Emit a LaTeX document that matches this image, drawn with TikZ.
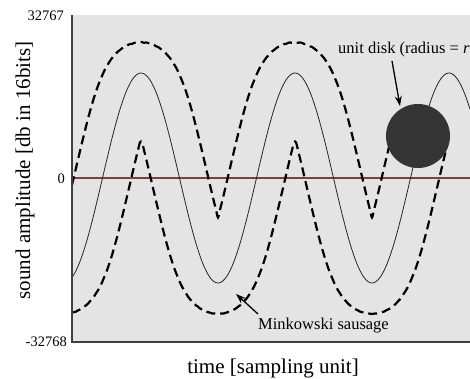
\documentclass[tikz,border=0pt]{standalone}
\usepackage{fontspec}
\setmainfont{Liberation Serif}
\usetikzlibrary{arrows.meta}
\definecolor{bg}{HTML}{E4E4E4}
\definecolor{zeroline}{RGB}{125,65,55}
\definecolor{diskc}{HTML}{353535}
\begin{document}
\begin{tikzpicture}[x=1pt,y=-1pt,
  envelope/.style={line width=2.2pt,dash pattern=on 9pt off 5pt},
  signal/.style={line width=0.8pt,black!85},
  axisline/.style={line width=1.4pt,black!75},
  ticklabel/.style={font=\fontsize{14.5}{16}\selectfont,inner sep=0pt},
  axislabel/.style={font=\fontsize{21}{24}\selectfont,inner sep=0pt},
  note/.style={font=\fontsize{16.5}{19}\selectfont,inner sep=0pt},
  pointer/.style={-{Stealth[length=10pt,width=7pt]},line width=1.3pt}]
\useasboundingbox (0,0) rectangle (470,378);
\fill[bg] (72,15) rectangle (470,342);
% envelopes of the disk swept along the signal (up to the disk's position)
\gdef\upath{}
\gdef\lpath{}
\foreach \x in {72,74,...,446}{
  \gdef\bu{1000}
  \gdef\bl{-1000}
  \foreach \t in {0,10,...,180}{
    \pgfmathsetmacro{\cc}{\x+28*cos(\t)}
    \pgfmathsetmacro{\fv}{178-105*cos((\cc-141)*2.337662)}
    \pgfmathsetmacro{\pen}{(\cc>418.5)*2000}
    \pgfmathsetmacro{\vu}{\fv-31*sin(\t)+\pen}
    \pgfmathsetmacro{\vl}{\fv+31*sin(\t)-\pen}
    \pgfmathparse{min(\bu,\vu)}\xdef\bu{\pgfmathresult}
    \pgfmathparse{max(\bl,\vl)}\xdef\bl{\pgfmathresult}
  }
  \ifdim\x pt<406pt \xdef\upath{\upath (\x,\bu)}\fi
  \xdef\lpath{\lpath (\x,\bl)}
}
\begin{scope}
\clip (72,15) rectangle (470,342);
\draw[zeroline,line width=1.1pt] (72,178) -- (470,178);
\draw[signal] plot[domain=72:470,samples=220,smooth] (\x,{178-105*cos((\x-141)*2.337662)});
\draw[envelope] plot[smooth] coordinates {\upath};
\draw[envelope] plot[smooth] coordinates {\lpath};
\end{scope}
\node[circle,fill=diskc,minimum size=64pt,inner sep=0pt] (disk) at (418,136) {};
% axes
\coordinate (ytop) at (72,15);
\coordinate (origin) at (72,342);
\coordinate (xend) at (470,342);
\draw[axisline] (ytop) -- (origin) -- (xend);
% tick labels
\node[ticklabel,anchor=base east] (tmax) at (64,20) {32767};
\node[ticklabel,anchor=base east] (tzero) at (65,183) {0};
\node[ticklabel,anchor=base east] (tmin) at (67,346) {-32768};
% axis labels
\node[axislabel,anchor=base] (xlabel) at (273,373) {time [sampling unit]};
\node[axislabel,rotate=90,anchor=base] (ylabel) at (30,170.5) {sound amplitude [db in 16bits]};
% annotations
\node[note,anchor=base west] (disklabel) at (338,53) {unit disk (radius = \textit{r}};
\node[note,anchor=base west] (mlabel) at (258,329) {Minkowski sausage};
\coordinate (dtail) at (392,61);
\coordinate (dtip) at (400,106);
\draw[pointer] (dtail) -- (dtip);
\coordinate (mtail) at (258,314);
\coordinate (mtip) at (236,294);
\draw[pointer] (mtail) -- (mtip);
\end{tikzpicture}
\end{document}
